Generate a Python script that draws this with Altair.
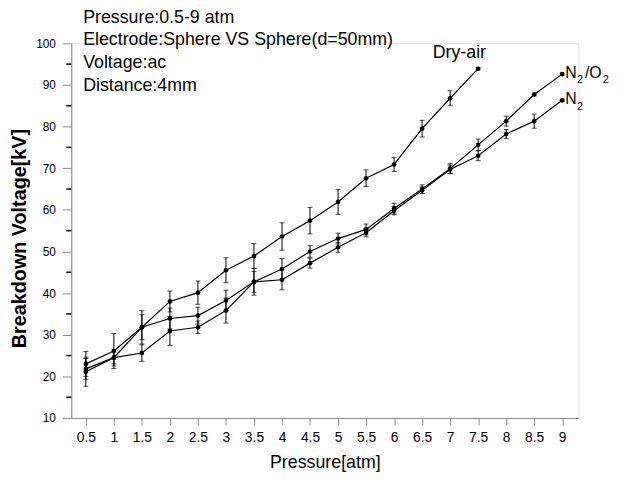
import altair as alt
import pandas as pd

# ---- data ----
pressure = [0.5, 1, 1.5, 2, 2.5, 3, 3.5, 4, 4.5, 5, 5.5, 6, 6.5, 7, 7.5, 8, 8.5, 9]

dry_air = [23.0, 26.1, 31.8, 38.0, 40.1, 45.5, 48.9, 53.6, 57.4, 61.9, 67.6, 70.9, 79.5, 86.8, 93.9]
dry_air_err = [3.0, 4.2, 4.0, 2.5, 2.8, 3.0, 3.0, 3.3, 3.2, 3.0, 2.0, 1.7, 2.0, 1.8, 0.3]

n2_o2 = [21.8, 24.5, 31.8, 33.9, 34.6, 38.2, 42.7, 45.8, 50.0, 53.1, 55.3, 60.3, 65.0, 69.9, 75.6, 81.3, 87.7, 92.6]
n2_o2_err = [2.5, 2.0, 3.0, 2.5, 2.0, 2.5, 3.2, 2.5, 1.4, 1.3, 1.3, 1.3, 1.0, 1.2, 1.4, 1.2, 0.3, 0.3]

n2 = [21.1, 24.5, 25.6, 30.9, 31.8, 35.8, 42.7, 43.2, 47.2, 51.0, 54.5, 59.8, 64.7, 69.7, 73.0, 78.2, 81.3, 86.3]
n2_err = [3.5, 1.5, 2.0, 3.5, 1.5, 3.0, 2.5, 2.4, 1.2, 1.2, 1.0, 1.0, 0.8, 1.0, 1.2, 1.1, 1.7, 0.3]

x_ticks = pressure
y_major = [10, 20, 30, 40, 50, 60, 70, 80, 90, 100]
y_minor = [15, 25, 35, 45, 55, 65, 75, 85, 95]

notes = ["Pressure:0.5-9 atm", "Electrode:Sphere VS Sphere(d=50mm)", "Voltage:ac", "Distance:4mm"]

# ---- tables ----
rows = []
for name, vals, errs in [("Dry-air", dry_air, dry_air_err),
                         ("N2/O2", n2_o2, n2_o2_err),
                         ("N2", n2, n2_err)]:
    for p, v, e in zip(pressure, vals, errs):
        rows.append({"series": name, "p": p, "v": v, "lo": v - e, "hi": v + e})
df = pd.DataFrame(rows)

FONT = "Liberation Sans"
xscale = alt.Scale(domain=[0.24, 9.29], nice=False, zero=False)
yscale = alt.Scale(domain=[10, 100], nice=False, zero=False)

xaxis = alt.Axis(values=x_ticks, format="~g", title="Pressure[atm]", grid=False,
                 tickSize=7, labelPadding=6, labelFontSize=14, titleFontSize=18,
                 titleFontWeight="normal", titlePadding=9, labelFlush=False)
yaxis = alt.Axis(values=y_major, title="Breakdown Voltage[kV]", grid=False,
                 tickSize=9, labelPadding=7, labelFontSize=12, titleFontSize=20,
                 titleFontWeight="bold", titleX=-52, titleY=197,
                 titleAlign="center", titleBaseline="middle")

X = alt.X("p:Q", scale=xscale, axis=xaxis)
base = alt.Chart(df)

lines = base.mark_line(color="black", strokeWidth=1.2).encode(
    x=X, y=alt.Y("v:Q", scale=yscale, axis=yaxis), detail="series:N", order="p:Q")
points = base.mark_circle(size=22, color="black", opacity=1).encode(
    x=X, y=alt.Y("v:Q", scale=yscale, axis=yaxis))
bars = base.mark_rule(color="black", strokeWidth=1).encode(
    x=X, y=alt.Y("lo:Q", scale=yscale, axis=yaxis), y2="hi:Q")
cap_lo = base.mark_tick(orient="horizontal", size=5, thickness=1, color="black").encode(
    x=X, y=alt.Y("lo:Q", scale=yscale, axis=yaxis))
cap_hi = base.mark_tick(orient="horizontal", size=5, thickness=1, color="black").encode(
    x=X, y=alt.Y("hi:Q", scale=yscale, axis=yaxis))

minor = alt.Chart(pd.DataFrame({"m": y_minor})).mark_rule(color="black", strokeWidth=1.5).encode(
    y=alt.Y("m:Q", scale=yscale, axis=yaxis), x=alt.value(-5), x2=alt.value(0))

layers = [lines, bars, cap_lo, cap_hi, points, minor]

note_y = [-26, -3, 20, 43]
for t, yy in zip(notes, note_y):
    layers.append(alt.Chart(pd.DataFrame({"t": [t]})).mark_text(
        align="left", baseline="middle", font=FONT, fontSize=18, color="black").encode(
        text="t:N", x=alt.value(12), y=alt.value(yy)))

# series labels anchored at the last point of each series
def lab(p, v, text, dx, dy, size, align="left"):
    return alt.Chart(pd.DataFrame({"p": [p], "v": [v], "t": [text]})).mark_text(
        align=align, baseline="middle", font=FONT, fontSize=size, color="black",
        dx=dx, dy=dy).encode(
        x=alt.X("p:Q", scale=xscale, axis=xaxis),
        y=alt.Y("v:Q", scale=yscale, axis=yaxis), text="t:N")

layers += [
    lab(pressure[len(dry_air) - 1], dry_air[-1], "Dry-air", -19, -16, 18, "center"),
    lab(pressure[-1], n2_o2[-1], "N", 3, -1, 16),
    lab(pressure[-1], n2_o2[-1], "2", 15, 6, 11),
    lab(pressure[-1], n2_o2[-1], "/O", 23, -1, 16),
    lab(pressure[-1], n2_o2[-1], "2", 41, 6, 11),
    lab(pressure[-1], n2[-1], "N", 3, -1, 16),
    lab(pressure[-1], n2[-1], "2", 15, 7, 11),
]

chart = alt.layer(*layers).properties(
    width=513, height=379,
    autosize=alt.AutoSizeParams(type="none"),
    padding={"left": 64, "top": 33, "right": 40, "bottom": 60},
).configure_view(stroke=None).configure_axis(
    domainColor="black", tickColor="black", labelColor="black", titleColor="black",
    domainWidth=1.5, tickWidth=1.5, labelFont=FONT, titleFont=FONT,
).configure(background="white")

chart.save("out.html", embed_options={"renderer": "svg", "actions": False})
